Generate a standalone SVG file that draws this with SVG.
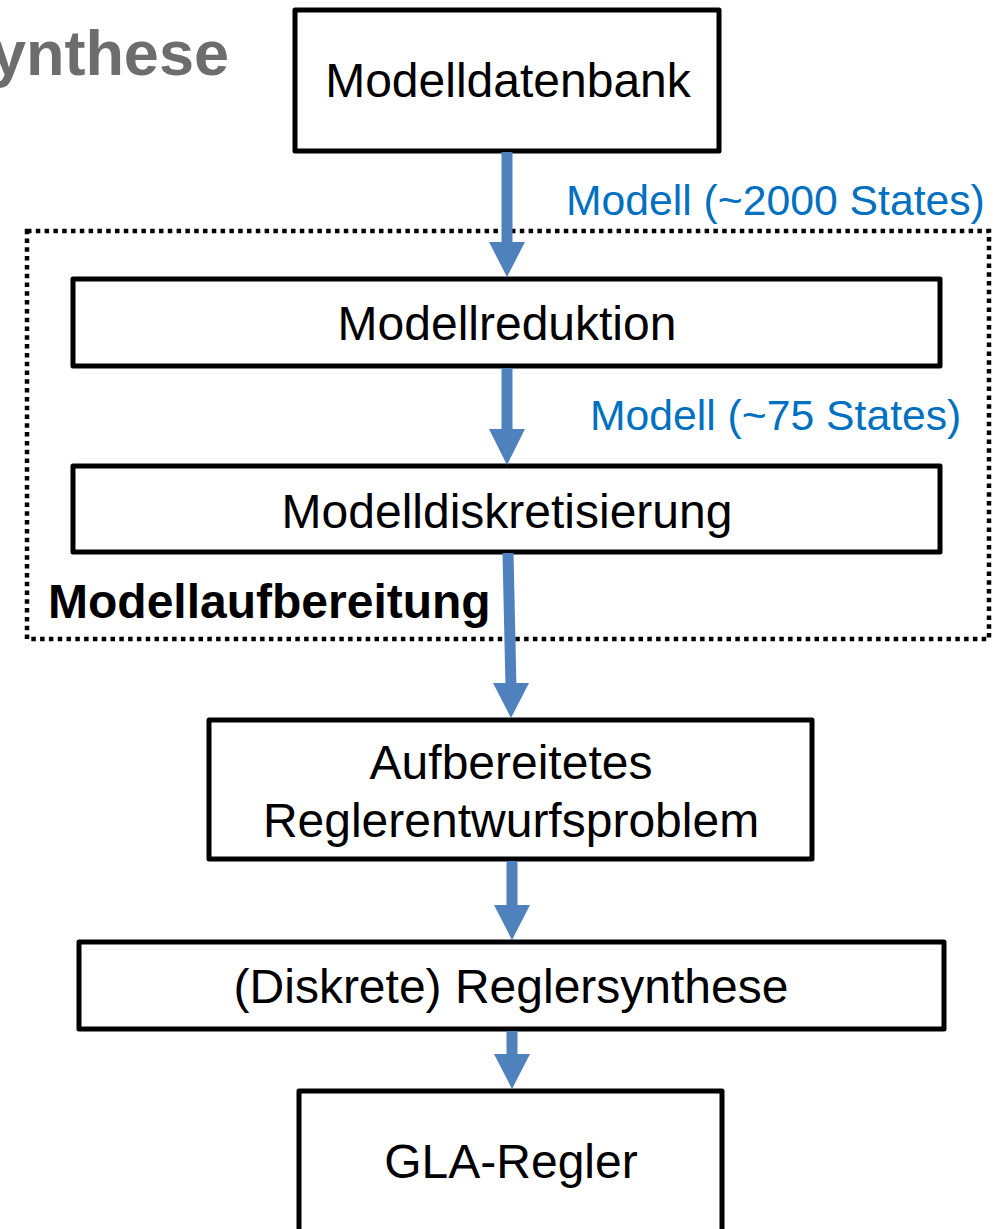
<svg xmlns="http://www.w3.org/2000/svg" width="1005" height="1229" viewBox="0 0 1005 1229">
<style>
.box{fill:#fff;stroke:#000;stroke-width:5;stroke-linejoin:round}
.t{font-family:"Liberation Sans",Arial,sans-serif;font-size:48px;fill:#000;text-anchor:middle}
.lbl{font-family:"Liberation Sans",Arial,sans-serif;font-size:42.7px;fill:#0070C0}
.arr{fill:#4F81BD}
</style>
<rect width="1005" height="1229" fill="#fff"/>
<text x="229" y="75" style="font-family:'Liberation Sans',Arial,sans-serif;font-size:63px;font-weight:bold;fill:#6d6d6d;text-anchor:end">ynthese</text>
<g id="group-modellaufbereitung">
<rect x="27" y="231" width="962" height="408" fill="none" stroke="#000" stroke-width="4.5" stroke-dasharray="4.5 4.3"/>
<text x="48" y="618" style="font-family:'Liberation Sans',Arial,sans-serif;font-size:48px;font-weight:bold;fill:#000">Modellaufbereitung</text>
</g>
<g id="node-modelldatenbank">
<rect class="box" x="295" y="10" width="424" height="141"/>
<text class="t" x="508" y="97">Modelldatenbank</text>
</g>
<g id="node-modellreduktion">
<rect class="box" x="73" y="279" width="867" height="87"/>
<text class="t" x="507" y="340">Modellreduktion</text>
</g>
<g id="node-modelldiskretisierung">
<rect class="box" x="73" y="466" width="867" height="86"/>
<text class="t" x="507" y="528">Modelldiskretisierung</text>
</g>
<g id="node-aufbereitetes">
<rect class="box" x="209" y="720" width="603" height="139"/>
<text class="t" x="511" y="779">Aufbereitetes</text>
<text class="t" x="511" y="837">Reglerentwurfsproblem</text>
</g>
<g id="node-reglersynthese">
<rect class="box" x="79" y="942" width="865" height="87"/>
<text class="t" x="511" y="1003">(Diskrete) Reglersynthese</text>
</g>
<g id="node-gla-regler">
<rect class="box" x="299" y="1091" width="423" height="160"/>
<text class="t" x="511" y="1178">GLA-Regler</text>
</g>
<g id="connectors">
<path class="arr" d="M501.5,152 H512.5 V242 H525 L507,277 L489,242 H501.5 Z"/>
<path class="arr" d="M501.5,368 H512.5 V429 H525 L507,465 L489,429 H501.5 Z"/>
<path class="arr" d="M502.5,553 H513.5 L516.4,683 H529 L511,718 L493,683 H505.4 Z"/>
<path class="arr" d="M506.5,861 H517.5 V905 H530 L512,940 L494,905 H506.5 Z"/>
<path class="arr" d="M506.5,1031 H517.5 V1054 H530 L512,1089 L494,1054 H506.5 Z"/>
<text class="lbl" x="566" y="215">Modell (~2000 States)</text>
<text class="lbl" x="590" y="430">Modell (~75 States)</text>
</g>
</svg>
